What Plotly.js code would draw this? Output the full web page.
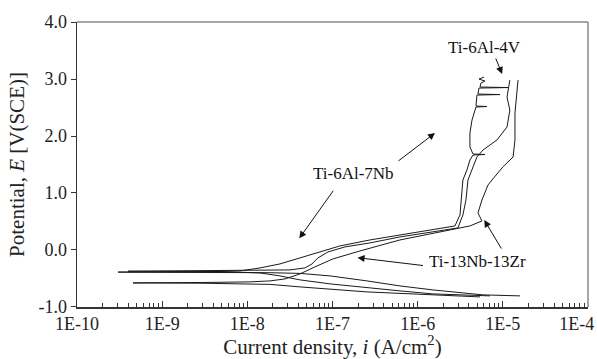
<!DOCTYPE html>
<html><head><meta charset="utf-8">
<script src="https://cdn.plot.ly/plotly-3.0.1.min.js"></script>
<style>html,body{margin:0;padding:0;background:#fff}#chart{width:597px;height:359px}</style>
</head><body><div id="chart"></div>
<script>
// Ti-6Al-7Nb : current density (A/cm2) and potential (V SCE)
const ti67Current = [1.59e-5,5.85e-6,1.51e-6,6.19e-7,2.54e-7,9.36e-8,4.15e-8,1.85e-8,2.78e-9,3.03e-10,2.78e-9,8.21e-9,1.41e-8,2.41e-8,3.83e-8,6.58e-8,1.22e-7,2.75e-7,6.19e-7,1.40e-6,2.74e-6,3.14e-6,3.23e-6,3.40e-6,3.79e-6,4.11e-6,4.47e-6,6.17e-6,4.47e-6,4.11e-6,4.11e-6,4.35e-6,4.84e-6,6.52e-6,4.84e-6,4.97e-6,9.27e-6,5.11e-6,5.25e-6,1.15e-5,5.40e-6,5.53e-6,6.17e-6,5.25e-6,6.0e-6];
const ti67Potential = [-0.807,-0.789,-0.702,-0.632,-0.544,-0.456,-0.412,-0.400,-0.395,-0.389,-0.386,-0.368,-0.316,-0.246,-0.158,-0.053,0.070,0.175,0.263,0.351,0.421,0.614,0.877,1.228,1.404,1.579,1.667,1.675,1.684,1.807,2.053,2.281,2.509,2.518,2.526,2.719,2.728,2.737,2.842,2.851,2.860,2.930,2.965,3.0,3.035];
// Ti-6Al-4V
const ti64Current = [7.06e-6,1.51e-6,6.19e-7,2.54e-7,9.36e-8,4.15e-8,2.41e-8,1.41e-8,4.78e-9,3.97e-10,4.78e-9,1.41e-8,3.17e-8,4.75e-8,5.74e-8,6.76e-8,8.85e-8,1.40e-7,2.75e-7,6.19e-7,1.40e-6,2.97e-6,3.40e-6,3.69e-6,3.90e-6,4.35e-6,4.97e-6,5.85e-6,8.53e-6,1.12e-5,1.21e-5,1.12e-5,1.21e-5];
const ti64Potential = [-0.807,-0.772,-0.719,-0.667,-0.596,-0.526,-0.456,-0.404,-0.379,-0.374,-0.368,-0.363,-0.351,-0.316,-0.246,-0.140,-0.035,0.053,0.123,0.228,0.316,0.386,0.614,0.877,1.228,1.404,1.632,1.754,1.930,2.158,2.456,2.684,2.982];
// Ti-13Nb-13Zr
const ti1313Current = [5.40e-6,1.51e-6,2.54e-7,4.15e-8,1.85e-8,2.78e-9,4.54e-10,2.78e-9,1.07e-8,1.85e-8,2.77e-8,4.15e-8,6.22e-8,1.01e-7,2.10e-7,6.19e-7,1.83e-6,4.11e-6,5.69e-6,5.11e-6,5.69e-6,6.70e-6,7.46e-6,1.00e-5,1.32e-5,1.39e-5,1.39e-5,1.47e-5,1.51e-5];
const ti1313Potential = [-0.825,-0.789,-0.737,-0.649,-0.605,-0.584,-0.579,-0.572,-0.561,-0.544,-0.509,-0.421,-0.298,-0.158,-0.018,0.175,0.316,0.421,0.509,0.649,0.877,1.140,1.228,1.456,1.632,1.930,2.404,2.719,2.982];

const seriesNames = ['Ti-6Al-7Nb','Ti-6Al-4V','Ti-13Nb-13Zr'];
const xTickVals = [1e-10,1e-9,1e-8,1e-7,1e-6,1e-5,1e-4];
const xTickText = ['1E-10','1E-9','1E-8','1E-7','1E-6','1E-5','1E-4\u00a0\u00a0\u00a0\u00a0\u00a0'];
const yTickVals = [-1,0,1,2,3,4];
const yTickText = ['-1.0','0.0','1.0','2.0','3.0','4.0'];

const minorVals = [];
for (let d = -10; d <= -5; d++) for (let k = 2; k <= 9; k++) minorVals.push(k * Math.pow(10, d));

const serif = 'Liberation Serif';
const lineStyle = {color: '#1a1a1a', width: 1};
const data = [
  {x: ti67Current, y: ti67Potential, name: seriesNames[0], mode: 'lines', line: lineStyle},
  {x: ti64Current, y: ti64Potential, name: seriesNames[1], mode: 'lines', line: lineStyle},
  {x: ti1313Current, y: ti1313Potential, name: seriesNames[2], mode: 'lines', line: lineStyle}
];

const annFont = {family: serif, size: 17, color: '#111'};
function arrow(x, y, ax, ay) {
  return {xref: 'paper', yref: 'paper', x: x, y: y, ax: ax, ay: ay, text: '', showarrow: true,
          arrowhead: 2, arrowsize: 1.4, arrowwidth: 1, arrowcolor: '#111'};
}
function label(x, y, t) {
  return {xref: 'paper', yref: 'paper', x: x, y: y, text: t, showarrow: false, font: annFont,
          xanchor: 'center', yanchor: 'middle'};
}

const layout = {
  width: 597, height: 359,
  margin: {l: 77, r: 9, t: 22, b: 52},
  paper_bgcolor: '#fff', plot_bgcolor: '#fff',
  showlegend: false,
  font: {family: serif, color: '#222'},
  xaxis: {
    type: 'log', range: [-10.0005, -3.9995], automargin: false,
    tickmode: 'array', tickvals: xTickVals, ticktext: xTickText,
    ticklabeloverflow: 'allow',
    ticks: 'inside', ticklen: 6, tickwidth: 1, tickcolor: '#333',
    minor: {tickmode: 'array', tickvals: minorVals, ticks: 'inside', ticklen: 4, tickwidth: 1, tickcolor: '#333', showgrid: false},
    showline: true, linecolor: '#333', linewidth: 1.5,
    showgrid: false, zeroline: false,
    tickfont: {family: serif, size: 18, color: '#222'},
    title: {text: 'Current density, <i>i</i> (A/cm<sup>2</sup>)', font: {family: serif, size: 21, color: '#222'}, standoff: 7}
  },
  yaxis: {
    range: [-1.002, 4.002], automargin: false,
    tickmode: 'array', tickvals: yTickVals, ticktext: yTickText,
    ticks: 'outside', ticklen: 5, tickwidth: 1, tickcolor: '#333',
    showline: true, linecolor: '#333', linewidth: 1.5,
    showgrid: false, zeroline: false,
    tickfont: {family: serif, size: 18, color: '#222'},
    title: {text: 'Potential, <i>E</i> [V(SCE)]', font: {family: serif, size: 21, color: '#222'}, standoff: 8}
  },
  shapes: [
    {type: 'line', xref: 'paper', yref: 'paper', x0: 0, y0: 1, x1: 1, y1: 1, line: {color: '#888', width: 1.5}},
    {type: 'line', xref: 'paper', yref: 'paper', x0: 1, y0: 0, x1: 1, y1: 1, line: {color: '#888', width: 1.5}}
  ],
  annotations: [
    label(0.798, 0.909, 'Ti-6Al-4V'),
    arrow(0.832, 0.8175, -7, -17),
    label(0.542, 0.470, 'Ti-6Al-7Nb'),
    arrow(0.7006, 0.6105, -38, 29),
    arrow(0.435, 0.241, 35, -49),
    label(0.783, 0.159, 'Ti-13Nb-13Zr'),
    arrow(0.549, 0.173, 67, 8),
    arrow(0.797, 0.305, 18, 30)
  ]
};

Plotly.newPlot('chart', data, layout, {displayModeBar: false, staticPlot: true});
</script>
</body></html>
